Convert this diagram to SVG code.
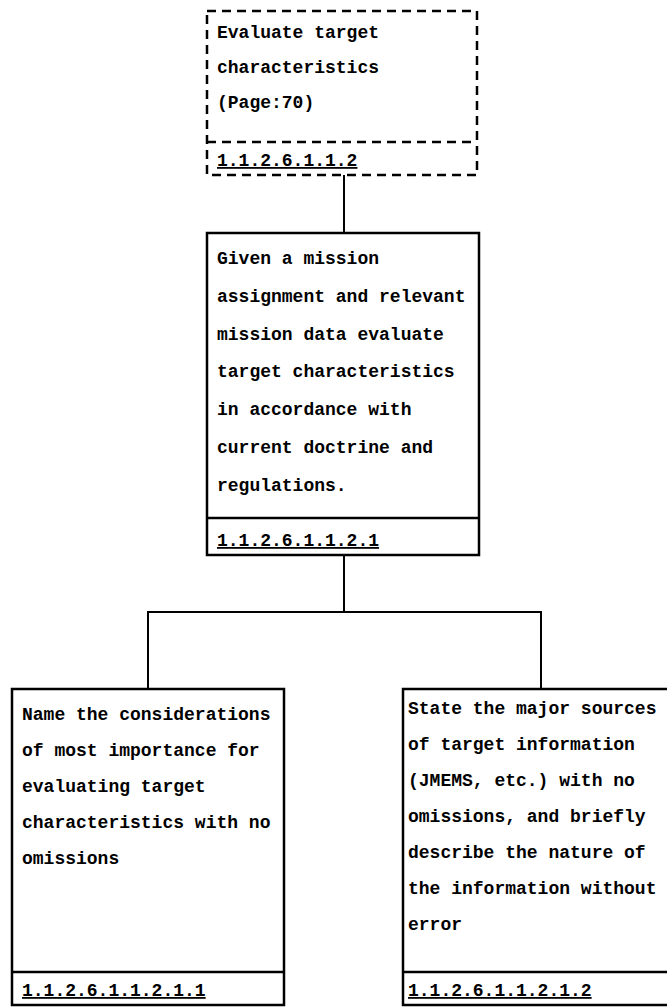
<svg xmlns="http://www.w3.org/2000/svg" width="667" height="1007" viewBox="0 0 667 1007">
<style>
.box{fill:#fff;stroke:#000;stroke-width:2.5}
.dash{stroke-dasharray:9 6}
.div{stroke:#000;stroke-width:2.5}
.t{font-family:"Liberation Mono","DejaVu Sans Mono",monospace;font-size:18px;font-weight:bold;fill:#000}
.code{text-decoration:underline}
.conn{fill:none;stroke:#000;stroke-width:2}
</style>
<rect width="667" height="1007" fill="#fff"/>
<g id="connectors">
<line class="conn" x1="344" y1="175" x2="344" y2="233"/>
<line class="conn" x1="344" y1="555" x2="344" y2="612"/>
<polyline class="conn" points="148,689 148,612 541,612 541,689"/>
</g>
<g id="node-1.1.2.6.1.1.2">
<rect class="box dash" x="207" y="11" width="270" height="164"/>
<line class="div dash" x1="207" y1="142" x2="477" y2="142"/>
<text class="t" x="217" y="38">Evaluate target</text>
<text class="t" x="217" y="73">characteristics</text>
<text class="t" x="217" y="108">(Page:70)</text>
<text class="t code" x="217" y="166">1.1.2.6.1.1.2</text>
</g>
<g id="node-1.1.2.6.1.1.2.1">
<rect class="box" x="207" y="233" width="272" height="322"/>
<line class="div" x1="207" y1="518" x2="479" y2="518"/>
<text class="t" x="217" y="264">Given a mission</text>
<text class="t" x="217" y="302">assignment and relevant</text>
<text class="t" x="217" y="340">mission data evaluate</text>
<text class="t" x="217" y="377">target characteristics</text>
<text class="t" x="217" y="415">in accordance with</text>
<text class="t" x="217" y="453">current doctrine and</text>
<text class="t" x="217" y="491">regulations.</text>
<text class="t code" x="217" y="546">1.1.2.6.1.1.2.1</text>
</g>
<g id="node-1.1.2.6.1.1.2.1.1">
<rect class="box" x="12" y="689" width="272" height="316"/>
<line class="div" x1="12" y1="972" x2="284" y2="972"/>
<text class="t" x="22" y="720">Name the considerations</text>
<text class="t" x="22" y="756">of most importance for</text>
<text class="t" x="22" y="792">evaluating target</text>
<text class="t" x="22" y="828">characteristics with no</text>
<text class="t" x="22" y="864">omissions</text>
<text class="t code" x="22" y="996">1.1.2.6.1.1.2.1.1</text>
</g>
<g id="node-1.1.2.6.1.1.2.1.2">
<rect class="box" x="403" y="689" width="272" height="316"/>
<line class="div" x1="403" y1="972" x2="675" y2="972"/>
<text class="t" x="408" y="714">State the major sources</text>
<text class="t" x="408" y="750">of target information</text>
<text class="t" x="408" y="786">(JMEMS, etc.) with no</text>
<text class="t" x="408" y="822">omissions, and briefly</text>
<text class="t" x="408" y="858">describe the nature of</text>
<text class="t" x="408" y="894">the information without</text>
<text class="t" x="408" y="930">error</text>
<text class="t code" x="408" y="996">1.1.2.6.1.1.2.1.2</text>
</g>
</svg>
